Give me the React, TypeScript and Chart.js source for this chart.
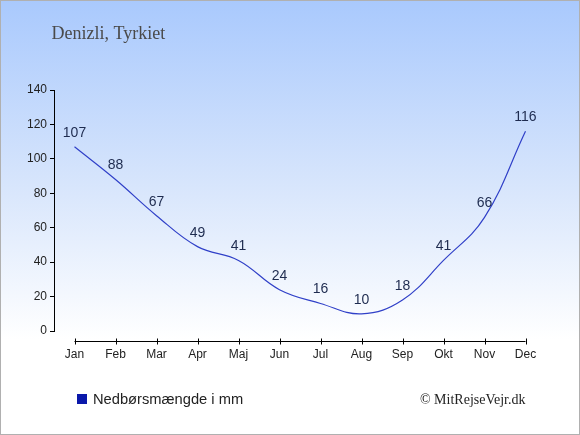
import React, { useEffect, useRef } from "react";
import { Chart, registerables } from "chart.js";

Chart.register(...registerables);

const months = ["Jan", "Feb", "Mar", "Apr", "Maj", "Jun", "Jul", "Aug", "Sep", "Okt", "Nov", "Dec"];
const precipitation = [107, 88, 67, 49, 41, 24, 16, 10, 18, 41, 66, 116];
const yTicks = [0, 20, 40, 60, 80, 100, 120, 140];
const titleText = "Denizli, Tyrkiet";
const legendText = "Nedbørsmængde i mm";
const copyrightText = "© MitRejseVejr.dk";

const SANS = "'Liberation Sans', Arial, sans-serif";
const SERIF = "'Liberation Serif', 'Times New Roman', serif";

const decorPlugin = {
  id: "decor",
  beforeDraw(chart: any) {
    const { ctx, width, height } = chart;
    ctx.save();
    const g = ctx.createLinearGradient(0, 0, 0, height);
    g.addColorStop(0, "#a9c9fd");
    g.addColorStop(0.45, "#dae7fc");
    g.addColorStop(0.78, "#ffffff");
    g.addColorStop(1, "#ffffff");
    ctx.fillStyle = g;
    ctx.fillRect(0, 0, width, height);
    ctx.restore();
  },
  afterDraw(chart: any) {
    const { ctx, width, height } = chart;
    const xs = chart.scales.x;
    const area = chart.chartArea;
    ctx.save();
    // x axis line (offset below the plot)
    const first = xs.getPixelForValue(0);
    const last = xs.getPixelForValue(months.length - 1);
    const ay = Math.round(area.bottom + 10) + 0.5;
    ctx.strokeStyle = "#000";
    ctx.lineWidth = 1;
    ctx.beginPath();
    ctx.moveTo(first, ay);
    ctx.lineTo(last, ay);
    for (let i = 0; i < months.length; i++) {
      const px = Math.round(xs.getPixelForValue(i)) + 0.5;
      ctx.moveTo(px, ay - 3);
      ctx.lineTo(px, ay + 3);
    }
    ctx.stroke();

    // title
    ctx.fillStyle = "#4a4a4a";
    ctx.font = `18px ${SERIF}`;
    ctx.textAlign = "left";
    ctx.textBaseline = "alphabetic";
    ctx.fillText(titleText, 51.5, 38.5);

    // legend
    ctx.fillStyle = "#0a18aa";
    ctx.fillRect(77, 394, 10, 10);
    ctx.fillStyle = "#222";
    ctx.font = `14.7px ${SANS}`;
    ctx.fillText(legendText, 93, 403.5);

    // copyright
    ctx.fillStyle = "#222";
    ctx.font = `14px ${SERIF}`;
    ctx.textAlign = "right";
    ctx.fillText(copyrightText, 525.5, 404);

    // frame
    ctx.strokeStyle = "#b0b0b0";
    ctx.strokeRect(0.5, 0.5, width - 1, height - 1);
    ctx.restore();
  },
  afterDatasetsDraw(chart: any) {
    const { ctx } = chart;
    const meta = chart.getDatasetMeta(0);
    ctx.save();
    ctx.fillStyle = "#1e2b4f";
    ctx.font = `14px ${SANS}`;
    ctx.textAlign = "center";
    ctx.textBaseline = "middle";
    meta.data.forEach((pt: any, i: number) => {
      ctx.fillText(String(precipitation[i]), pt.x, pt.y - 14);
    });
    ctx.restore();
  },
};

export default function App() {
  const ref = useRef<HTMLCanvasElement | null>(null);
  useEffect(() => {
    if (!ref.current) return;
    const chart = new Chart(ref.current, {
      type: "line",
      data: {
        labels: months,
        datasets: [
          {
            label: legendText,
            data: precipitation,
            borderColor: "#3040c8",
            borderWidth: 1.2,
            pointRadius: 0,
            tension: 0.4,
            fill: false,
          },
        ],
      },
      options: {
        animation: false,
        responsive: false,
        devicePixelRatio: 1,
        layout: { padding: { top: 90, right: 34, left: 0, bottom: 0 } },
        plugins: {
          legend: { display: false },
          title: { display: false },
          tooltip: { enabled: false },
        },
        scales: {
          x: {
            offset: true,
            grid: { display: false, drawTicks: false },
            border: { display: false },
            ticks: {
              padding: 16,
              color: "#222",
              font: { family: SANS, size: 12 },
              maxRotation: 0,
              autoSkip: false,
            },
            afterFit: (scale: any) => {
              scale.height = 104;
            },
          },
          y: {
            min: 0,
            max: 140,
            afterBuildTicks: (scale: any) => {
              scale.ticks = yTicks.map((v) => ({ value: v }));
            },
            grid: { drawOnChartArea: false, tickLength: 4, color: "#000" },
            border: { display: true, color: "#000", width: 1 },
            ticks: {
              padding: 3,
              color: "#222",
              font: { family: SANS, size: 12 },
            },
            afterFit: (scale: any) => {
              scale.width = 54;
            },
          },
        },
      },
      plugins: [decorPlugin],
    });
    return () => chart.destroy();
  }, []);
  return (
    <div style={{ position: "absolute", left: 0, top: 0, width: 580, height: 435 }}>
      <canvas ref={ref} width={580} height={435} style={{ display: "block" }} />
    </div>
  );
}
